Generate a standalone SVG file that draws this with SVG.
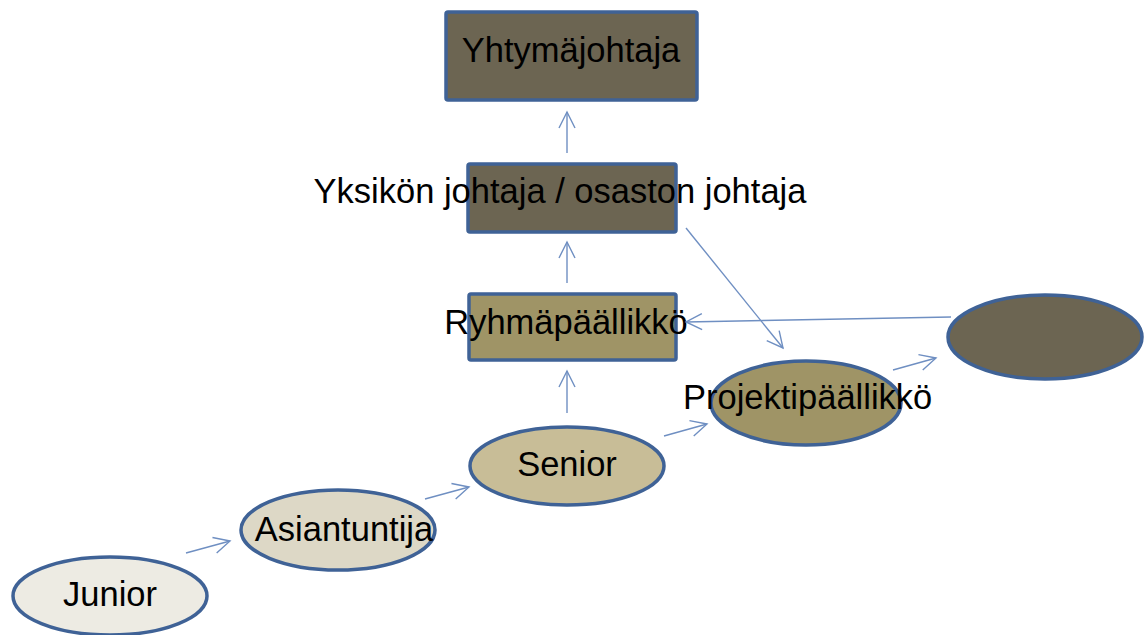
<svg xmlns="http://www.w3.org/2000/svg" width="1147" height="635" viewBox="0 0 1147 635">
  <style>
    .box { stroke: #3f6296; stroke-width: 3.5; }
    .lbl { font-family: "Liberation Sans", Arial, sans-serif; font-size: 34.5px; fill: #000; }
    .mid { text-anchor: middle; }
    .dark { fill: #6c6552; }
    .olive { fill: #9f9466; }
    .tan { fill: #c8bd97; }
    .pale { fill: #ddd8c6; }
    .paler { fill: #edebe3; }
    .conn line { stroke: #6f8fc2; stroke-width: 1.4; fill: none; marker-end: url(#arr); }
  </style>
  <defs>
    <marker id="arr" viewBox="0 0 20 20" refX="18" refY="10" markerWidth="20" markerHeight="20" markerUnits="userSpaceOnUse" orient="auto">
      <path d="M2 2 L18 10 L2 18" fill="none" stroke="#6f8fc2" stroke-width="1.4"/>
    </marker>
  </defs>
  <rect width="1147" height="635" fill="#fff"/>

  <g id="yhtyma">
    <rect class="box dark" x="446" y="12" width="251" height="88" rx="2"/>
    <text class="lbl mid" x="571" y="62">Yhtymäjohtaja</text>
  </g>

  <g id="yksikko">
    <rect class="box dark" x="468" y="164" width="208" height="68" rx="2"/>
    <text class="lbl mid" x="560" y="203">Yksikön johtaja / osaston johtaja</text>
  </g>

  <g id="ryhma">
    <rect class="box olive" x="469" y="294" width="207" height="66" rx="2"/>
    <text class="lbl mid" x="566" y="334">Ryhmäpäällikkö</text>
  </g>

  <g id="projekti">
    <ellipse class="box olive" cx="806" cy="403" rx="95" ry="42"/>
    <text class="lbl" x="683" y="409">Projektipäällikkö</text>
  </g>

  <g id="tyhja">
    <ellipse class="box dark" cx="1045" cy="337" rx="97" ry="42"/>
  </g>

  <g id="senior">
    <ellipse class="box tan" cx="567" cy="466" rx="97" ry="39"/>
    <text class="lbl mid" x="567" y="476">Senior</text>
  </g>

  <g id="asiantuntija">
    <ellipse class="box pale" cx="338" cy="530" rx="97" ry="40"/>
    <text class="lbl mid" x="344" y="541">Asiantuntija</text>
  </g>

  <g id="junior">
    <ellipse class="box paler" cx="110" cy="596" rx="97" ry="39"/>
    <text class="lbl mid" x="110" y="606">Junior</text>
  </g>

  <g id="connectors" class="conn">
    <line x1="186" y1="553" x2="230" y2="541"/>
    <line x1="425" y1="499" x2="469" y2="487"/>
    <line x1="664" y1="436" x2="707" y2="424"/>
    <line x1="893" y1="370" x2="936" y2="358"/>
    <line x1="567" y1="413" x2="567" y2="371"/>
    <line x1="567" y1="283" x2="567" y2="242"/>
    <line x1="567" y1="153" x2="567" y2="112"/>
    <line x1="686" y1="228" x2="783" y2="348"/>
    <line x1="951" y1="317" x2="686" y2="322"/>
  </g>
</svg>
